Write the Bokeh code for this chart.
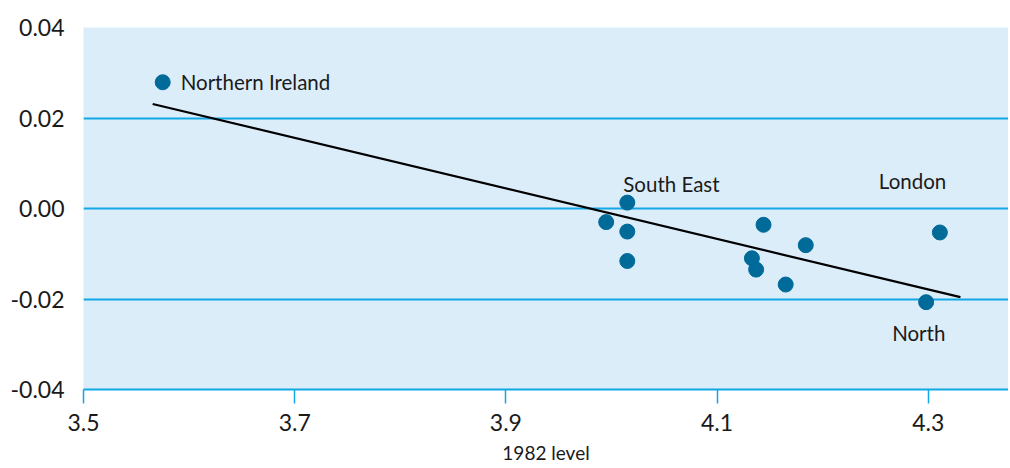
from bokeh.plotting import figure
from bokeh.models import FixedTicker, NumeralTickFormatter, ColumnDataSource
from bokeh.core.properties import value
from bokeh.embed import file_html
from bokeh.resources import INLINE

# ---- data ----
level_1982 = [3.575, 4.015, 3.995, 4.015, 4.015, 4.144, 4.184, 4.133, 4.137, 4.165, 4.311, 4.298]
change = [0.0279, 0.0013, -0.0030, -0.0051, -0.0116, -0.0036, -0.0081, -0.0110, -0.0135, -0.0168, -0.0053, -0.0207]
names = ["Northern Ireland", "South East", "", "", "", "", "", "", "", "", "London", "North"]

fit_x = [3.5655, 4.3305]
fit_y = [0.0231, -0.0196]

x_ticks = [3.5, 3.7, 3.9, 4.1, 4.3]
y_ticks = [-0.04, -0.02, 0.0, 0.02, 0.04]

# ---- styling ----
label_dx = [18, -4, 0, 0, 0, 0, 0, 0, 0, 0, -61, -34]
label_dy = [0, -19, 0, 0, 0, 0, 0, 0, 0, 0, -51, 31]

FONT = "Lato"
TXT = "#1a1a1a"
GRID = "#12a8e3"
BG = "#dcedfa"
DOT = "#006a99"

p = figure(width=1008, height=468, output_backend="svg", toolbar_location=None,
           x_range=(3.5, 4.376), y_range=(-0.04, 0.04),
           min_border_left=83, min_border_right=0, min_border_top=27, min_border_bottom=79)
p.outline_line_color = None
p.background_fill_color = BG
p.border_fill_color = "white"

p.xgrid.grid_line_color = None
p.ygrid.ticker = FixedTicker(ticks=y_ticks)
p.ygrid.grid_line_color = GRID
p.ygrid.grid_line_width = 2

xa = p.xaxis[0]
xa.ticker = FixedTicker(ticks=x_ticks)
xa.formatter = NumeralTickFormatter(format="0.0")
xa.axis_line_color = GRID
xa.axis_line_width = 2
xa.major_tick_line_color = GRID
xa.major_tick_line_width = 1.5
xa.major_tick_in = 0
xa.major_tick_out = 14
xa.minor_tick_line_color = None
xa.major_label_text_font = FONT
xa.major_label_text_font_size = "23px"
xa.major_label_text_color = TXT
xa.major_label_standoff = 10
xa.axis_label = "1982 level"
xa.axis_label_text_font = FONT
xa.axis_label_text_font_size = "19px"
xa.axis_label_text_font_style = "normal"
xa.axis_label_text_color = TXT
xa.axis_label_standoff = 7

ya = p.yaxis[0]
ya.ticker = FixedTicker(ticks=y_ticks)
ya.formatter = NumeralTickFormatter(format="0.00")
ya.axis_line_color = None
ya.major_tick_line_color = None
ya.minor_tick_line_color = None
ya.major_label_text_font = FONT
ya.major_label_text_font_size = "23px"
ya.major_label_text_color = TXT
ya.major_label_standoff = 13

p.line(fit_x, fit_y, line_color="black", line_width=2.2)

src = ColumnDataSource(dict(x=level_1982, y=change, name=names, dx=label_dx, dy=label_dy))
p.scatter("x", "y", source=src, size=15, fill_color=DOT, line_color=DOT)
p.text("x", "y", text="name", source=src, x_offset="dx", y_offset="dy",
       text_font=value(FONT), text_font_size="20.5px", text_color=TXT,
       text_baseline="middle", text_align="left")

open("out.html", "w").write(file_html(p, INLINE))
